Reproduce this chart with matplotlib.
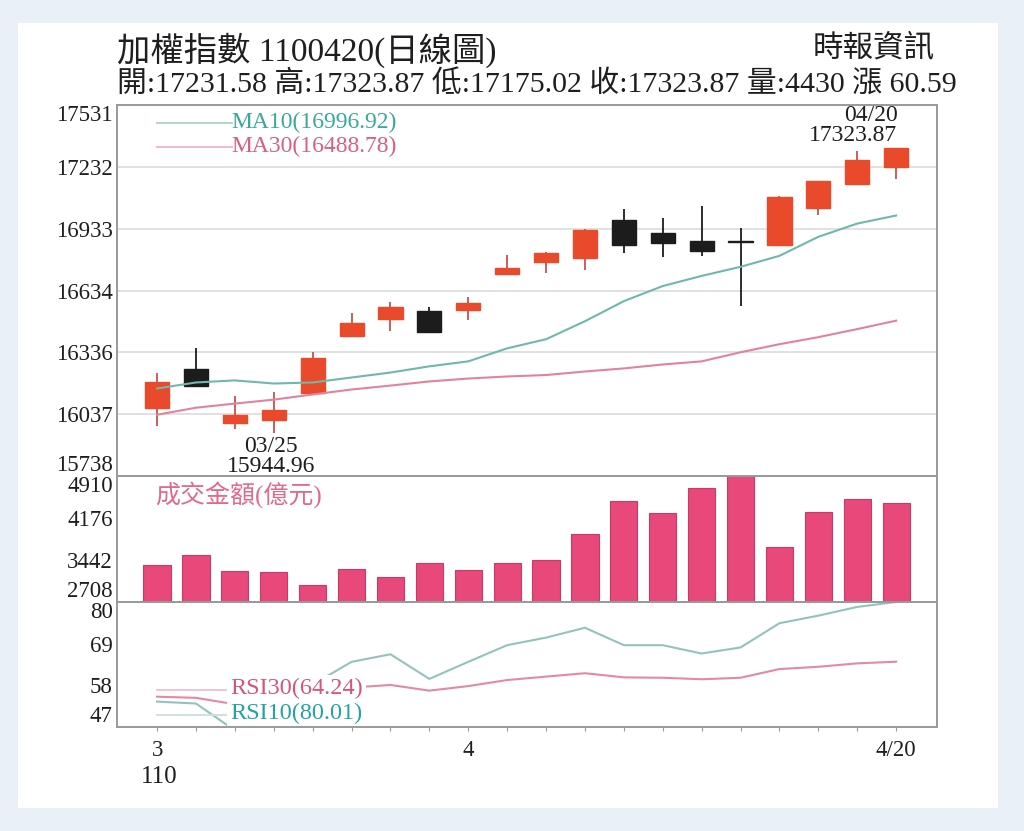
import numpy as np
import matplotlib
matplotlib.use("Agg")
import matplotlib.pyplot as plt
from matplotlib.patches import Rectangle

plt.rcParams['font.family'] = ['Liberation Serif', 'Noto Sans CJK TC', 'DejaVu Sans']

# ---- data (TAIEX daily, 110/03/22 - 110/04/20) ----
dates = ['03/22', '03/23', '03/24', '03/25', '03/26', '03/29', '03/30', '03/31',
         '04/01', '04/06', '04/07', '04/08', '04/09', '04/12', '04/13', '04/14',
         '04/15', '04/16', '04/19', '04/20']
opens = [16068, 16253, 15996, 16010, 16141, 16413, 16496, 16535, 16540, 16715,
         16773, 16792, 16977, 16914, 16875, 16872, 16856, 17035, 17147, 17231.58]
closes = [16190, 16175, 16034, 16059, 16307, 16477, 16554, 16433, 16574, 16744,
          16817, 16928, 16856, 16865, 16826, 16868, 17084, 17162, 17264, 17323.87]
highs = [16238, 16355, 16127, 16146, 16336, 16525, 16579, 16554, 16603, 16807,
         16822, 16932, 17026, 16987, 17045, 16938, 17090, 17166, 17308, 17323.87]
lows = [15981, 16166, 15966, 15944.96, 16135, 16410, 16438, 16430, 16491, 16710,
        16720, 16734, 16817, 16797, 16802, 16559, 16850, 17001, 17145, 17175.02]
ma10 = [16161, 16190, 16200, 16185, 16190, 16214, 16238, 16268, 16292, 16355,
        16399, 16486, 16583, 16656, 16705, 16749, 16802, 16894, 16958, 16996.92]
ma30 = [16034, 16068, 16088, 16107, 16132, 16156, 16175, 16195, 16209, 16219,
        16226, 16243, 16258, 16277, 16292, 16336, 16375, 16409, 16448, 16488.78]
volumes = [3355, 3529, 3250, 3232, 3005, 3285, 3145, 3390, 3267, 3390,
           3442, 3897, 4473, 4264, 4701, 5050, 3669, 4281, 4508, 4430]
rsi10 = [53.7, 53.2, 46.1, 46.5, 58.2, 64.2, 66.2, 59.7, 64.2, 68.6,
         70.6, 73.2, 68.6, 68.6, 66.4, 68.0, 74.4, 76.4, 78.7, 80.01]
rsi30 = [55.0, 54.7, 53.0, 53.6, 56.4, 57.4, 58.1, 56.6, 57.8, 59.4,
         60.3, 61.2, 60.1, 60.0, 59.6, 60.0, 62.3, 62.9, 63.8, 64.24]

price_ticks = [15738, 16037, 16336, 16634, 16933, 17232, 17531]
vol_ticks = [2708, 3442, 4176, 4910]
rsi_ticks = [47, 58, 69, 80]

title = '加權指數 1100420(日線圖)'
source = '時報資訊'
info = '開:17231.58 高:17323.87 低:17175.02 收:17323.87 量:4430 漲 60.59'

# colours
UP = '#ea4a2c'
DOWN = '#1c1c1c'
BAR = '#e8487a'
TEAL = '#6fb8ad'
PINK = '#e2839c'
FRAME = '#9a9a9a'
W, H = 1024, 831

x = np.arange(len(dates))

fig = plt.figure(figsize=(W / 100, H / 100), dpi=100, facecolor='#eaf0f8')
fig.patches.append(Rectangle((18 / W, 1 - 808 / H), 980 / W, 785 / H,
                             transform=fig.transFigure, facecolor='white',
                             edgecolor='none', zorder=-5))

def px_axes(top, bottom):
    return fig.add_axes([117 / W, 1 - bottom / H, 820 / W, (bottom - top) / H])

ax1 = px_axes(105, 476)
ax2 = px_axes(476, 602)
ax3 = px_axes(602, 727)

for ax in (ax1, ax2, ax3):
    ax.set_xlim(-1.03, 20.05)
    for s in ax.spines.values():
        s.set_color(FRAME)
        s.set_linewidth(1.4)
    ax.tick_params(axis='y', length=0, pad=3, labelsize=16.5, labelcolor='#1e1e1e')
    ax.patch.set_alpha(0)

def end_labels(ax):
    labs = ax.get_yticklabels()
    labs[0].set_verticalalignment('bottom')
    labs[-1].set_verticalalignment('top')

# ---- candles ----
ax1.set_ylim(price_ticks[0], price_ticks[-1])
ax1.set_yticks(price_ticks)
ax1.set_xticks([])
ax1.grid(axis='y', color='#dcdcdc', linewidth=1.2)
ax1.set_axisbelow(True)
for i in range(len(dates)):
    up = closes[i] > opens[i]
    c = UP if up else DOWN
    ax1.vlines(x[i], lows[i], highs[i], color='#c8504a' if up else DOWN,
               linewidth=1.3, zorder=2)
    lo, hi = min(opens[i], closes[i]), max(opens[i], closes[i])
    ax1.bar(x[i], max(hi - lo, 1), bottom=lo, width=0.62, color=c,
            edgecolor=c, linewidth=1.0, zorder=3)
ax1.plot(x, ma10, color=TEAL, linewidth=1.5, zorder=4)
ax1.plot(x, ma30, color=PINK, linewidth=1.5, zorder=4)
end_labels(ax1)

ax1.plot([0.049, 0.140], [0.951, 0.951], transform=ax1.transAxes,
         color='#a9d3cc', linewidth=1.3)
ax1.plot([0.049, 0.140], [0.887, 0.887], transform=ax1.transAxes,
         color='#f0b5c4', linewidth=1.3)
ax1.text(0.140, 0.953, 'MA10(%.2f)' % ma10[-1], transform=ax1.transAxes,
         color='#3aa89b', fontsize=17, ha='left', va='center')
ax1.text(0.140, 0.889, 'MA30(%.2f)' % ma30[-1], transform=ax1.transAxes,
         color='#d9607e', fontsize=17, ha='left', va='center')

imin = int(np.argmin(lows))
ax1.annotate('%s\n%.2f' % (dates[imin], lows[imin]), xy=(x[imin], lows[imin]),
             xytext=(-2, -2), textcoords='offset points', ha='center', va='top',
             fontsize=17, linespacing=0.95, color='#1e1e1e')
ax1.annotate('%s\n%.2f' % (dates[-1], highs[-1]), xy=(x[-1], highs[-1]),
             xytext=(1, 1), textcoords='offset points', ha='right', va='bottom',
             fontsize=17, linespacing=0.95, color='#1e1e1e', annotation_clip=False)

# ---- turnover ----
ax2.set_ylim(vol_ticks[0], vol_ticks[-1])
ax2.set_yticks(vol_ticks)
ax2.set_xticks([])
base = vol_ticks[0]
ax2.bar(x, np.array(volumes) - base, bottom=base, width=0.7, color=BAR,
        edgecolor='#c93a66', linewidth=0.8)
end_labels(ax2)
ax2.text(0.046, 0.857, '成交金額(億元)', transform=ax2.transAxes, color='#e06a8a',
         fontsize=18, ha='left', va='center')

# ---- RSI ----
ax3.set_ylim(rsi_ticks[0], rsi_ticks[-1])
ax3.set_yticks(rsi_ticks)
ax3.plot(x, rsi10, color='#93c3bb', linewidth=1.5, zorder=2)
ax3.plot(x, rsi30, color='#e38aa2', linewidth=1.5, zorder=2)
end_labels(ax3)
ax3.plot([0.049, 0.138], [0.296, 0.296], transform=ax3.transAxes,
         color='#f2bfcb', linewidth=1.3, zorder=2)
ax3.plot([0.049, 0.138], [0.096, 0.096], transform=ax3.transAxes,
         color='#cfdedb', linewidth=1.3, zorder=2)
ax3.text(0.138, 0.312, 'RSI30(%.2f)' % rsi30[-1], transform=ax3.transAxes,
         color='#d4567a', fontsize=17.5, ha='left', va='center', zorder=5,
         bbox=dict(facecolor='white', edgecolor='none', pad=2))
ax3.text(0.138, 0.112, 'RSI10(%.2f)' % rsi10[-1], transform=ax3.transAxes,
         color='#24a3a0', fontsize=17.5, ha='left', va='center', zorder=5,
         bbox=dict(facecolor='white', edgecolor='none', pad=2))

# x ticks: every day, labels at month starts and the last day
labels = []
for i, d in enumerate(dates):
    if i == 0 or d[:2] != dates[i - 1][:2]:
        labels.append(str(int(d[:2])))
    elif i == len(dates) - 1:
        labels.append('%d/%s' % (int(d[:2]), d[3:]))
    else:
        labels.append('')
ax3.set_xticks(x)
ax3.set_xticklabels(labels)
ax3.tick_params(axis='x', length=3, color=FRAME, pad=6, labelsize=16.5,
                labelcolor='#1e1e1e')
ax3.annotate('110', xy=(x[0], 0), xycoords=('data', 'axes fraction'),
             xytext=(-12, -28), textcoords='offset points', ha='left', va='top',
             fontsize=18, color='#1e1e1e', annotation_clip=False)

# ---- header ----
fig.text(117 / W, 1 - 50 / H, title, fontsize=24, ha='left', va='center', color='#1e1e1e')
fig.text(935 / W, 1 - 50 / H, source, fontsize=22, ha='right', va='center', color='#1e1e1e')
fig.text(117 / W, 1 - 84 / H, info, fontsize=21.5, ha='left', va='center', color='#1e1e1e')

fig.savefig('out.png', dpi=100, facecolor=fig.get_facecolor())
